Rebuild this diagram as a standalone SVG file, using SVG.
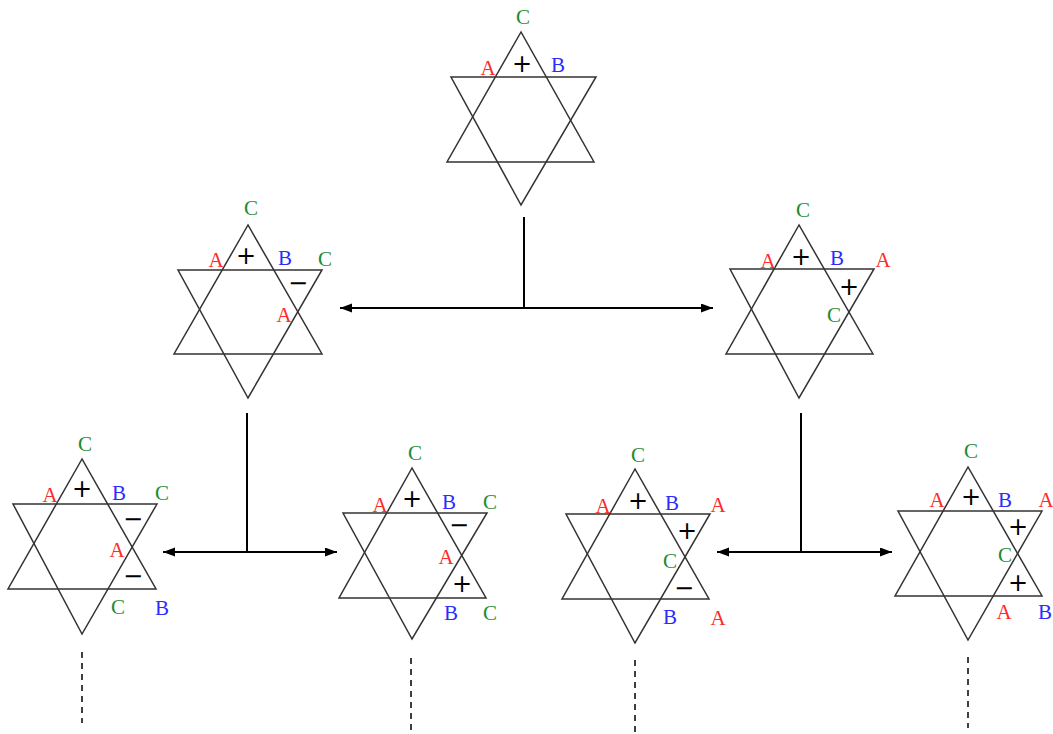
<svg xmlns="http://www.w3.org/2000/svg" width="1053" height="734" viewBox="0 0 1053 734">
<style>
.tri{fill:none;stroke:#333;stroke-width:1.5;stroke-linejoin:miter}
.l{font-family:"Liberation Serif",serif;font-size:21px;text-anchor:middle}
.a{fill:#ff2a2a}
.b{fill:#2b2bff}
.c{fill:#1e8c32}
.s{font-family:"DejaVu Sans",sans-serif;font-size:24px;text-anchor:middle;fill:#000}
.con{stroke:#000;stroke-width:2;fill:none}
.dash{stroke:#000;stroke-width:1.5;stroke-dasharray:6 5;fill:none}
</style>
<defs>
<marker id="ah" markerUnits="userSpaceOnUse" markerWidth="13" markerHeight="10" refX="12" refY="4.5" orient="auto-start-reverse">
<path d="M0,0 L12,4.5 L0,9 z" fill="#000"/>
</marker>
</defs>
<rect width="1053" height="734" fill="#fff"/>
<g id="connectors">
<line class="con" x1="524" y1="217" x2="524" y2="308"/>
<line class="con" x1="340" y1="308" x2="713" y2="308" marker-start="url(#ah)" marker-end="url(#ah)"/>
<line class="con" x1="247" y1="413" x2="247" y2="552"/>
<line class="con" x1="163" y1="552" x2="337" y2="552" marker-start="url(#ah)" marker-end="url(#ah)"/>
<line class="con" x1="801" y1="413" x2="801" y2="552"/>
<line class="con" x1="717" y1="552" x2="892" y2="552" marker-start="url(#ah)" marker-end="url(#ah)"/>
<line class="dash" x1="82" y1="652" x2="82" y2="723"/>
<line class="dash" x1="411" y1="658" x2="411" y2="731"/>
<line class="dash" x1="635" y1="660" x2="635" y2="732"/>
<line class="dash" x1="968" y1="657" x2="968" y2="728"/>
</g>
<g id="star-top">
<polygon class="tri" points="521,32 447,162 594,162"/>
<polygon class="tri" points="451,77 596,77 521,205"/>
<text class="l c" x="523" y="24">C</text>
<text class="l a" x="488" y="75">A</text>
<text class="s" x="522" y="72">+</text>
<text class="l b" x="558" y="72">B</text>
</g>
<g id="star-mid-left">
<polygon class="tri" points="248,225 174,354 322,354"/>
<polygon class="tri" points="178,270 322,270 248,398"/>
<text class="l c" x="251" y="215">C</text>
<text class="l a" x="216" y="267">A</text>
<text class="s" x="246" y="264">+</text>
<text class="l b" x="285" y="265">B</text>
<text class="l c" x="325" y="266">C</text>
<text class="s" x="298" y="291">−</text>
<text class="l a" x="284" y="322">A</text>
</g>
<g id="star-mid-right">
<polygon class="tri" points="799,225 726,354 873,354"/>
<polygon class="tri" points="730,269 874,269 799,398"/>
<text class="l c" x="803" y="217">C</text>
<text class="l a" x="768" y="268">A</text>
<text class="s" x="801" y="265">+</text>
<text class="l b" x="837" y="265">B</text>
<text class="l a" x="883" y="267">A</text>
<text class="s" x="849" y="295">+</text>
<text class="l c" x="834" y="322">C</text>
</g>
<g id="star-b1">
<polygon class="tri" points="82,459 8,589 156,589"/>
<polygon class="tri" points="13,504 157,504 82,634"/>
<text class="l c" x="85" y="451">C</text>
<text class="l a" x="50" y="502">A</text>
<text class="s" x="82" y="497">+</text>
<text class="l b" x="119" y="500">B</text>
<text class="l c" x="162" y="500">C</text>
<text class="s" x="133" y="527">−</text>
<text class="l a" x="117" y="557">A</text>
<text class="s" x="133" y="584">−</text>
<text class="l c" x="118" y="614">C</text>
<text class="l b" x="162" y="615">B</text>
</g>
<g id="star-b2">
<polygon class="tri" points="412,468 339,598 486,598"/>
<polygon class="tri" points="343,513 487,513 412,639"/>
<text class="l c" x="415" y="460">C</text>
<text class="l a" x="380" y="512">A</text>
<text class="s" x="412" y="507">+</text>
<text class="l b" x="449" y="509">B</text>
<text class="l c" x="490" y="509">C</text>
<text class="s" x="459" y="533">−</text>
<text class="l a" x="446" y="564">A</text>
<text class="s" x="462" y="592">+</text>
<text class="l b" x="451" y="620">B</text>
<text class="l c" x="490" y="620">C</text>
</g>
<g id="star-b3">
<polygon class="tri" points="635,469 562,599 709,599"/>
<polygon class="tri" points="566,514 710,514 635,643"/>
<text class="l c" x="638" y="462">C</text>
<text class="l a" x="603" y="513">A</text>
<text class="s" x="638" y="509">+</text>
<text class="l b" x="672" y="510">B</text>
<text class="l a" x="718" y="512">A</text>
<text class="s" x="687" y="539">+</text>
<text class="l c" x="670" y="568">C</text>
<text class="s" x="684" y="596">−</text>
<text class="l b" x="670" y="624">B</text>
<text class="l a" x="718" y="625">A</text>
</g>
<g id="star-b4">
<polygon class="tri" points="968,467 895,596 1042,596"/>
<polygon class="tri" points="898,511 1042,511 968,640"/>
<text class="l c" x="971" y="458">C</text>
<text class="l a" x="937" y="507">A</text>
<text class="s" x="971" y="505">+</text>
<text class="l b" x="1005" y="507">B</text>
<text class="l a" x="1046" y="507">A</text>
<text class="s" x="1018" y="535">+</text>
<text class="l c" x="1005" y="562">C</text>
<text class="s" x="1018" y="591">+</text>
<text class="l a" x="1004" y="619">A</text>
<text class="l b" x="1045" y="619">B</text>
</g>
</svg>
